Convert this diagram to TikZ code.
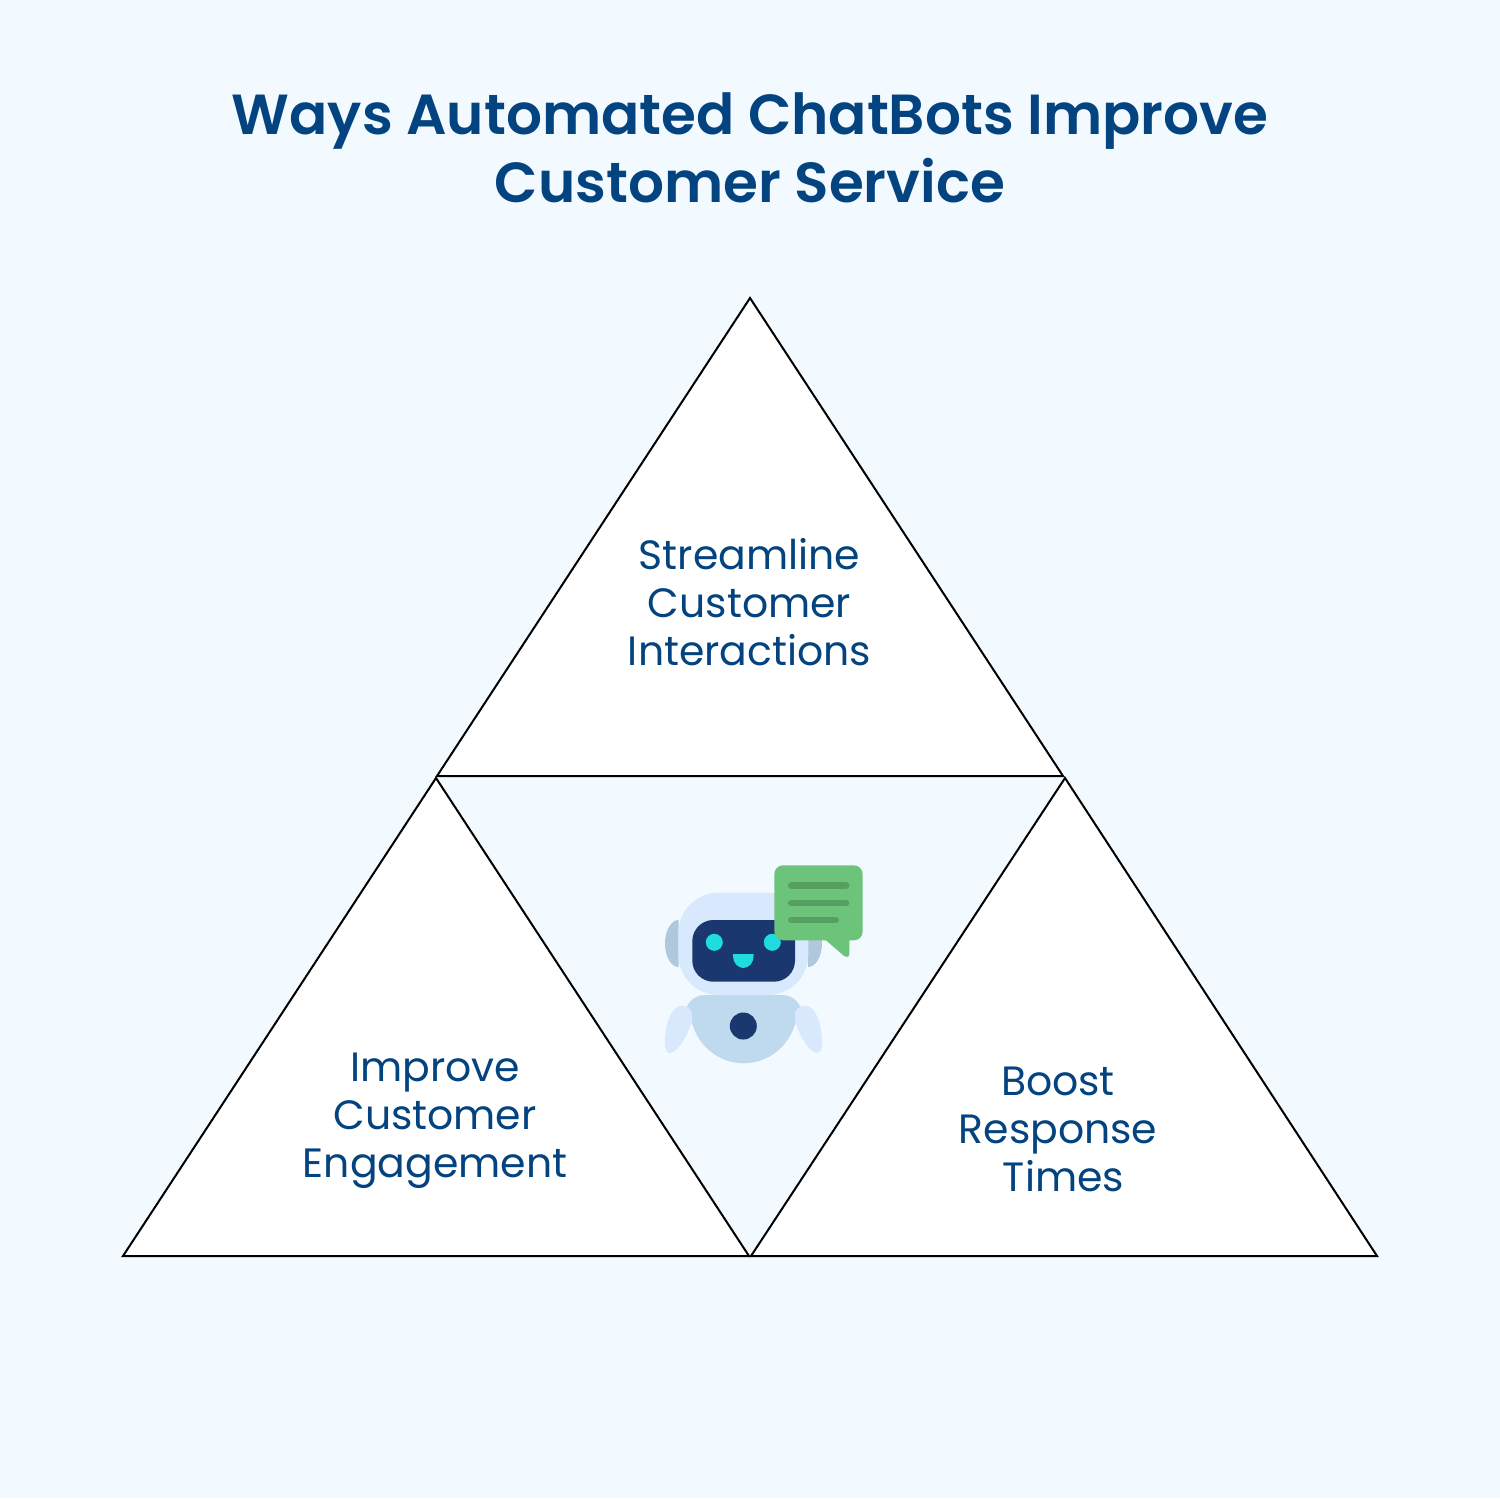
\documentclass[tikz,border=0pt]{standalone}
\usepackage{fontspec}
\setmainfont{Poppins}
\newfontfamily\headfont{Poppins SemiBold}
\definecolor{pagebg}{HTML}{F3FAFF}
\definecolor{inkblue}{HTML}{03437F}
\definecolor{botnavy}{HTML}{1A376F}
\definecolor{botcyan}{HTML}{1FDCE0}
\definecolor{bothead}{HTML}{D8E8FD}
\definecolor{botear}{HTML}{AFC8DB}
\definecolor{botbody}{HTML}{BFD9EF}
\definecolor{bubble}{HTML}{6CC47A}
\definecolor{bubbleline}{HTML}{559F60}
\tikzset{
	x=0.02cm, y=-0.02cm,
	wedge/.style={draw=black, fill=white, line width=0.04cm, line join=miter},
	titletext/.style={text=inkblue, align=center, font=\fontsize{32.15}{38.6}\selectfont\headfont},
	wedgetext/.style={text=inkblue, align=center, font=\fontsize{23.3}{27.2}\selectfont},
}

\begin{document}
\begin{tikzpicture}
	%%%%% START %%%%%
	\fill[pagebg] (0, 0) rectangle (1500, 1498);
	\useasboundingbox (0, 0) rectangle (1500, 1498);

	\node[titletext] (title) at (750, 148) {Ways Automated ChatBots Improve\\Customer Service};

	\draw[wedge] (750, 298) -- (1063, 776) -- (437, 776) -- cycle;
	\draw[wedge] (436, 778) -- (749, 1256) -- (123, 1256) -- cycle;
	\draw[wedge] (1065, 778) -- (1377, 1256) -- (751, 1256) -- cycle;

	\node[wedgetext] (streamline) at (749.5, 602) {Streamline\\Customer\\Interactions};
	\node[wedgetext] (engagement) at (435, 1121) {Improve\\Customer\\Engagement};
	\node[wedgetext] (response) at (1058, 1129.5) {Boost\\Response\\\ Times};

	% ears
	\fill[botear] (678.5, 920) arc (-90:-270:13.5 and 23.5) -- cycle;
	\fill[botear] (808, 920) arc (-90:90:14 and 23.5) -- cycle;

	% body and arms
	\fill[botbody] (685.3, 1012) [rounded corners=11] -- (685.3, 995) -- (801.7, 995) [sharp corners] -- (801.7, 1012) -- cycle;
	\fill[botbody] (690, 1008) arc (180:0:53.7 and 55.3) -- cycle;
	\fill[bothead] (681.7, 1005.7) .. controls (692, 1006) and (694, 1015) .. (691, 1024)
		.. controls (687, 1037) and (677, 1053) .. (670, 1053)
		.. controls (664, 1053) and (664, 1040) .. (666, 1030)
		.. controls (668, 1018) and (673, 1006) .. (681.7, 1005.7) -- cycle;
	\fill[bothead] (805.3, 1005.7) .. controls (795, 1006) and (793, 1015) .. (796, 1024)
		.. controls (800, 1037) and (810, 1053) .. (817, 1053)
		.. controls (823, 1053) and (823, 1040) .. (821, 1030)
		.. controls (819, 1018) and (814, 1006) .. (805.3, 1005.7) -- cycle;
	\fill[botnavy] (743.3, 1026) circle (13.5);

	% head and face
	\fill[bothead, rounded corners=23] (678.3, 892.7) rectangle (808.3, 995);
	\fill[botnavy, rounded corners=12] (692.3, 920) rectangle (795, 981.7);
	\fill[botcyan] (714.3, 942.3) circle (8.5);
	\fill[botcyan] (772.3, 942.3) circle (8.5);
	\fill[botcyan] (733, 956) arc (180:0:10.3 and 12) -- (753.6, 954) -- (733, 954) -- cycle;

	% speech bubble
	\fill[bubble, rounded corners=5] (774.3, 865.3) rectangle (862.7, 940.3);
	\fill[bubble] (826, 938) -- (826, 940.3) -- (843.5, 955.5) .. controls (846, 957.5) and (849.3, 957.5) .. (849.3, 954) -- (849.3, 938) -- cycle;
	\foreach \liney/\lineend in {885.7/849.3, 903/849.3, 920/839}
		\draw[bubbleline, line width=0.133cm, line cap=round] (791.3, \liney) -- (\lineend-3.3, \liney);
	%%%%% END %%%%%
\end{tikzpicture}
\end{document}
